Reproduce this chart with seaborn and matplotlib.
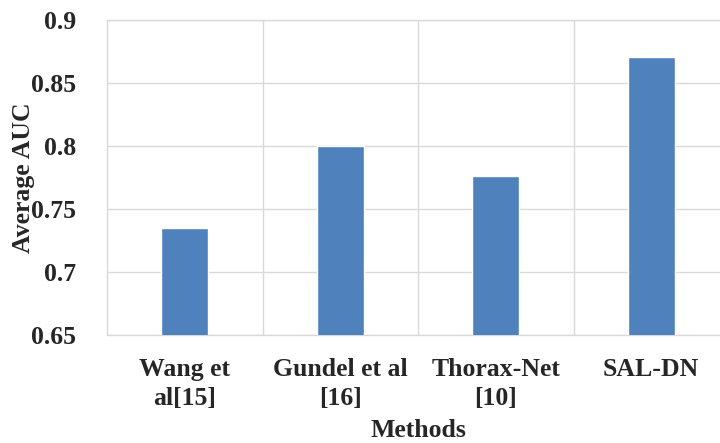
import matplotlib
matplotlib.use("Agg")
import matplotlib.pyplot as plt
import seaborn as sns
import pandas as pd

methods = ["Wang et\nal[15]", "Gundel et al\n[16]", "Thorax-Net\n[10]", "SAL-DN"]
auc = [0.735, 0.800, 0.776, 0.871]
yticks = [0.65, 0.7, 0.75, 0.8, 0.85, 0.9]
ytick_labels = ["0.65", "0.7", "0.75", "0.8", "0.85", "0.9"]

sns.set_style("white")
plt.rcParams["font.family"] = ["Liberation Serif", "DejaVu Serif"]
plt.rcParams["font.weight"] = "bold"

df = pd.DataFrame({"Method": methods, "AUC": auc})

fig = plt.figure(figsize=(7.2, 4.43), dpi=100)
ax = fig.add_axes([107 / 720, 1 - 334.7 / 443, 622 / 720, 314.7 / 443])

sns.barplot(data=df, x="Method", y="AUC", color="#4f81bd", saturation=1,
            width=0.3, ax=ax, zorder=3)

fs = 18.5
ax.set_ylim(0.65, 0.9)
ax.set_xlim(-0.5, 3.5)
ax.set_yticks(yticks)
ax.set_yticklabels(ytick_labels, fontsize=fs, fontweight="bold")
ax.set_xticks(range(len(methods)))
ax.set_xticklabels(methods, fontsize=fs, fontweight="bold", linespacing=1.3)
ax.set_xticks([0.5, 1.5, 2.5], minor=True)

grid_c = "#d9d9d9"
ax.grid(axis="y", which="major", color=grid_c, linewidth=1.0, zorder=0)
ax.grid(axis="x", which="minor", color=grid_c, linewidth=1.0, zorder=0)
ax.grid(axis="x", which="major", visible=False)
for s in ax.spines.values():
    s.set_color(grid_c)
    s.set_linewidth(1.0)

ax.tick_params(axis="both", which="both", length=0)
ax.tick_params(axis="y", pad=22)
ax.tick_params(axis="x", pad=17)

ax.set_xlabel("Methods", fontsize=fs, fontweight="bold")
ax.set_ylabel("Average AUC", fontsize=fs, fontweight="bold")
ax.xaxis.set_label_coords(0.5, -0.268)
ax.yaxis.set_label_coords(-0.115, 0.5)

fig.savefig("out.png", dpi=100)
